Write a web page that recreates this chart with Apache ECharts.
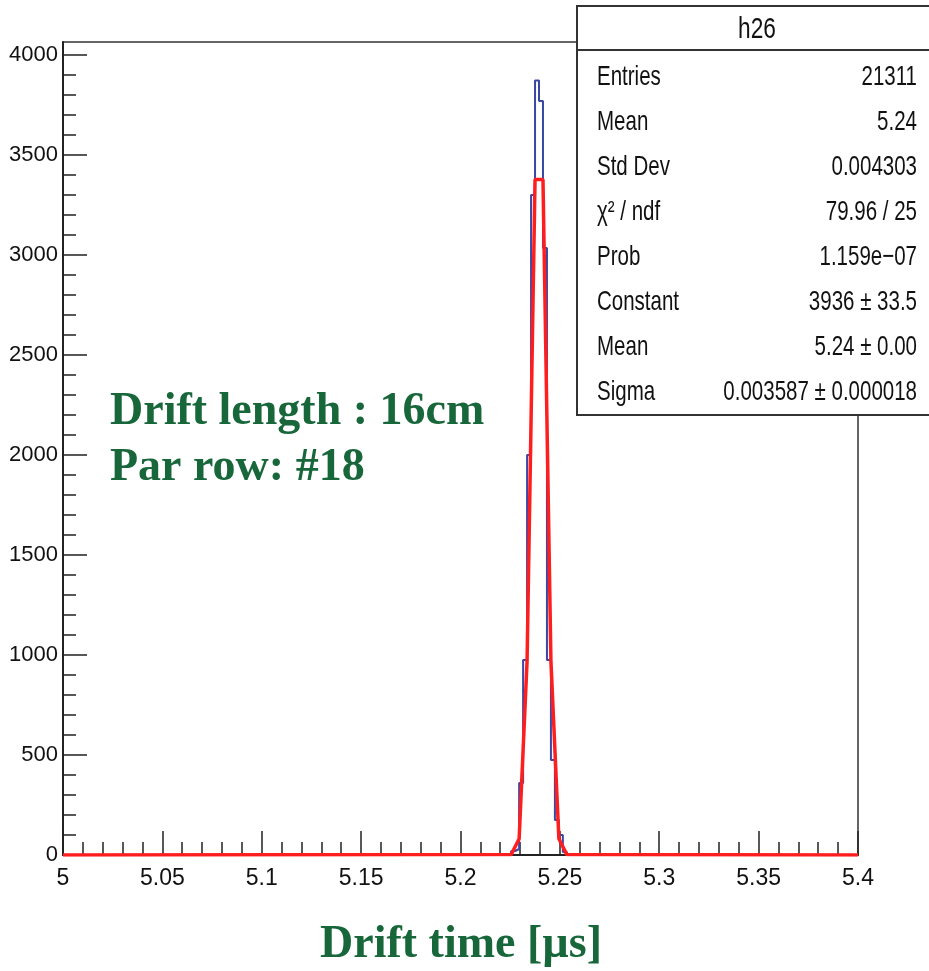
<!DOCTYPE html>
<html>
<head>
<meta charset="utf-8">
<script src="https://cdn.jsdelivr.net/npm/echarts@6/dist/echarts.min.js"></script>
<style>
html,body{margin:0;padding:0;background:#fff;}
#c{width:929px;height:971px;}
</style>
</head>
<body>
<div id="c"></div>
<script>
// ---- data ----
const binLeft = [5.2235, 5.2255, 5.2275, 5.2295, 5.2315, 5.2335, 5.2355, 5.2375, 5.2395, 5.2415, 5.2435, 5.2455, 5.2475, 5.2495, 5.2515];
const binCounts = [3, 20, 30, 360, 975, 2000, 3300, 3872, 3770, 3035, 975, 475, 175, 100, 15];
const binWidth = 0.002;
const fitX = [5.0, 5.2255, 5.2295, 5.2335, 5.2375, 5.2415, 5.2455, 5.2495, 5.2535, 5.4];
const fitY = [0, 2, 81, 971, 3377, 3377, 971, 81, 2, 0];
const xMajorTicks = [5, 5.05, 5.1, 5.15, 5.2, 5.25, 5.3, 5.35, 5.4];
const yMajorTicks = [0, 500, 1000, 1500, 2000, 2500, 3000, 3500, 4000];
const statsTitle = 'h26';
const statsNames = ['Entries', 'Mean', 'Std Dev', 'χ² / ndf', 'Prob', 'Constant', 'Mean', 'Sigma'];
const statsValues = ['21311', '5.24', '0.004303', '79.96 / 25', '1.159e−07', '3936 ± 33.5', '5.24 ± 0.00', '0.003587 ± 0.000018'];
const noteLines = ['Drift length : 16cm', 'Par row: #18'];
const xTitle = 'Drift time [µs]';

// ---- derived ----
const xMin = 5, xMax = 5.4, yMax = 4065;
const histPts = [[xMin, 0], [binLeft[0], 0]];
binLeft.forEach((l, i) => {
  histPts.push([l, binCounts[i]]);
  histPts.push([l + binWidth, binCounts[i]]);
});
histPts.push([binLeft[binLeft.length - 1] + binWidth, 0]);
histPts.push([xMax, 0]);
const fitPts = fitX.map((x, i) => [x, fitY[i]]);

const xMinor = [];
for (let i = 0; i <= 40; i++) { if (i % 5) xMinor.push(+(5 + i * 0.01).toFixed(3)); }
const yMinor = [];
for (let v = 100; v < 4000; v += 100) { if (v % 500) yMinor.push(v); }

const sansFont = "'Liberation Sans', Arial, sans-serif";
const serifFont = "'Liberation Serif', 'DejaVu Serif', serif";
const green = '#17673a';
const gridRect = {left: 63, top: 42, right: 71, bottom: 116, outerBoundsMode: 'none', containLabel: false};

const chart = echarts.init(document.getElementById('c'), null, {renderer: 'canvas'});

const graphics = [];
graphics.push({type: 'rect', z: 100, shape: {x: 577, y: 6, width: 370, height: 409},
  style: {fill: '#fff', stroke: '#333', lineWidth: 2}});
graphics.push({type: 'line', z: 101, shape: {x1: 577, y1: 50, x2: 929, y2: 50},
  style: {stroke: '#333', lineWidth: 2}});
graphics.push({type: 'text', z: 102, x: 757, y: 30, scaleX: 0.84, scaleY: 1.12,
  style: {text: statsTitle, font: "27px " + sansFont, fill: '#111', align: 'center', verticalAlign: 'middle'}});
statsNames.forEach((n, i) => {
  const y = 77 + i * 45.1;
  graphics.push({type: 'text', z: 102, x: 597, y: y, scaleX: 0.82, scaleY: 1.12,
    style: {text: n, font: "25px " + sansFont, fill: '#111', align: 'left', verticalAlign: 'middle'}});
  graphics.push({type: 'text', z: 102, x: 917, y: y, scaleX: 0.82, scaleY: 1.12,
    style: {text: statsValues[i], font: "25px " + sansFont, fill: '#111', align: 'right', verticalAlign: 'middle'}});
});
noteLines.forEach((t, i) => {
  graphics.push({type: 'text', z: 102, x: 110, y: 412 + i * 56,
    style: {text: t, font: "bold 46px " + serifFont, fill: green, align: 'left', verticalAlign: 'middle'}});
});
graphics.push({type: 'text', z: 102, x: 461, y: 945,
  style: {text: xTitle, font: "bold 46px " + serifFont, fill: green, align: 'center', verticalAlign: 'middle'}});

const labelFmt = v => String(+v.toFixed(3));

const option = {
  animation: false,
  backgroundColor: '#fff',
  grid: [
    Object.assign({show: true, borderColor: '#333', borderWidth: 1.5, backgroundColor: 'transparent'}, gridRect),
    Object.assign({show: false}, gridRect)
  ],
  xAxis: [
    {type: 'value', gridIndex: 0, min: xMin, max: xMax,
      axisLine: {show: true, onZero: false, lineStyle: {color: '#222', width: 2}},
      axisTick: {show: true, inside: true, length: 24, customValues: xMajorTicks, lineStyle: {color: '#222', width: 1.5}},
      axisLabel: {show: true, customValues: xMajorTicks, formatter: labelFmt, margin: 12, color: '#111', fontSize: 23, fontFamily: sansFont},
      splitLine: {show: false}},
    {type: 'value', gridIndex: 1, min: xMin, max: xMax,
      axisLine: {show: false},
      axisTick: {show: true, inside: true, length: 13, customValues: xMinor, lineStyle: {color: '#222', width: 1.5}},
      axisLabel: {show: false}, splitLine: {show: false}}
  ],
  yAxis: [
    {type: 'value', gridIndex: 0, min: 0, max: yMax,
      axisLine: {show: true, onZero: false, lineStyle: {color: '#222', width: 2}},
      axisTick: {show: true, inside: true, length: 24, customValues: yMajorTicks, lineStyle: {color: '#222', width: 1.5}},
      axisLabel: {show: true, customValues: yMajorTicks, formatter: labelFmt, margin: 5, color: '#111', fontSize: 22, fontFamily: sansFont},
      splitLine: {show: false}},
    {type: 'value', gridIndex: 1, min: 0, max: yMax,
      axisLine: {show: false},
      axisTick: {show: true, inside: true, length: 13, customValues: yMinor, lineStyle: {color: '#222', width: 1.5}},
      axisLabel: {show: false}, splitLine: {show: false}}
  ],
  series: [
    {type: 'line', xAxisIndex: 0, yAxisIndex: 0, data: histPts, symbol: 'none', z: 3,
      lineStyle: {color: '#3a47a5', width: 2}},
    {type: 'line', xAxisIndex: 0, yAxisIndex: 0, data: fitPts, symbol: 'none', z: 4,
      lineStyle: {color: '#ff1e1e', width: 3.5}}
  ],
  graphic: graphics
};
chart.setOption(option);
</script>
</body>
</html>
